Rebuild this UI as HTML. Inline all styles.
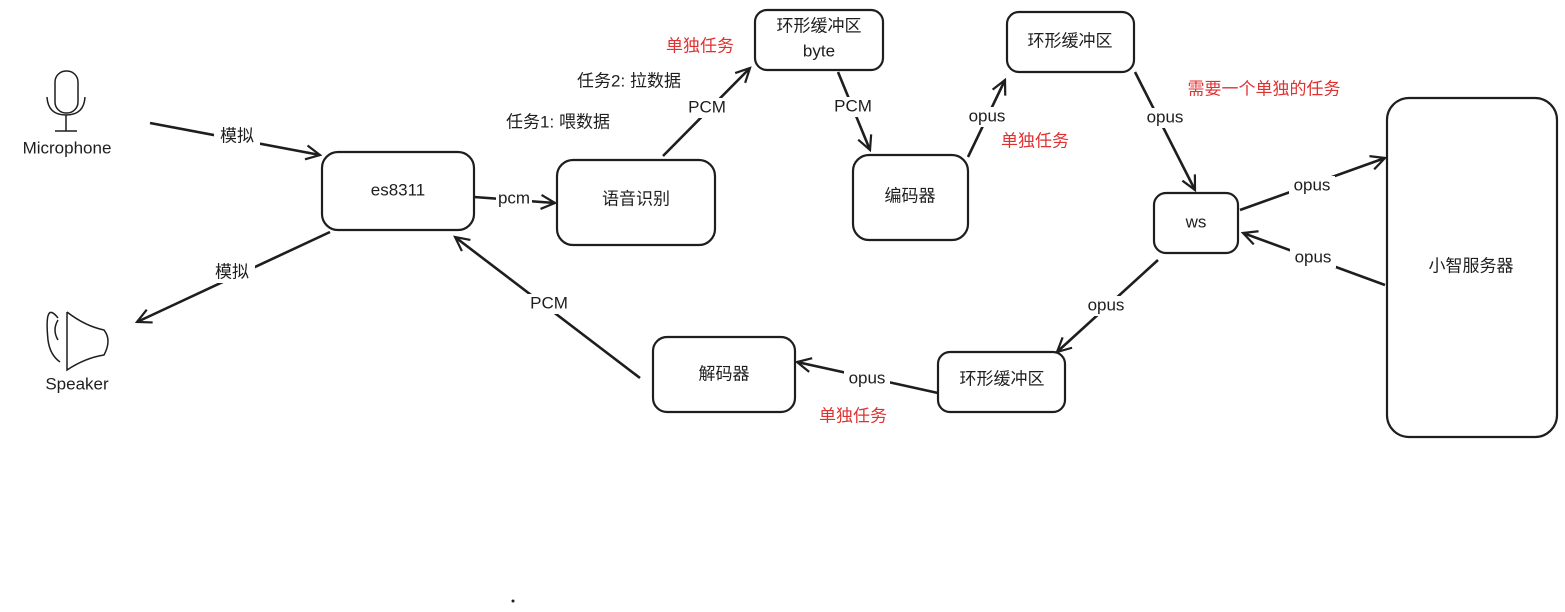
<!DOCTYPE html>
<html><head><meta charset="utf-8"><style>body{margin:0;background:#fff}svg{display:block}text{font-family:"Liberation Sans","Noto Sans CJK SC",sans-serif;font-size:17px;fill:#1e1e1e;text-anchor:middle;dominant-baseline:middle}.r{fill:#e03131}</style></head><body>
<svg width="1565" height="612" viewBox="0 0 1565 612">
<defs><marker id="a" markerWidth="20" markerHeight="20" refX="16" refY="10" orient="auto" markerUnits="userSpaceOnUse"><path d="M2,3 L16,10 L2,17" fill="none" stroke="#1e1e1e" stroke-width="2.2"/></marker></defs>
<g fill="none" stroke="#1e1e1e" stroke-width="2.2">
<rect x="322" y="152" width="152" height="78" rx="16"/>
<rect x="557" y="160" width="158" height="85" rx="16"/>
<rect x="755" y="10" width="128" height="60" rx="12"/>
<rect x="1007" y="12" width="127" height="60" rx="12"/>
<rect x="853" y="155" width="115" height="85" rx="16"/>
<rect x="1154" y="193" width="84" height="60" rx="12"/>
<rect x="1387" y="98" width="170" height="339" rx="22"/>
<rect x="653" y="337" width="142" height="75" rx="14"/>
<rect x="938" y="352" width="127" height="60" rx="12"/>
</g>
<g stroke="#1e1e1e" stroke-width="2.6" fill="none" marker-end="url(#a)">
<line x1="150" y1="123" x2="320" y2="155"/>
<line x1="330" y1="232" x2="137" y2="322"/>
<line x1="474" y1="197" x2="555" y2="203"/>
<line x1="663" y1="156" x2="750" y2="68"/>
<line x1="838" y1="72" x2="870" y2="150"/>
<line x1="968" y1="157" x2="1005" y2="80"/>
<line x1="1135" y1="72" x2="1195" y2="190"/>
<line x1="1240" y1="210" x2="1385" y2="158"/>
<line x1="1385" y1="285" x2="1243" y2="233"/>
<line x1="1158" y1="260" x2="1057" y2="352"/>
<line x1="938" y1="393" x2="797" y2="362"/>
<line x1="640" y1="378" x2="455" y2="237"/>
</g>
<g fill="#fff">
<rect x="214" y="127" width="46" height="20"/><rect x="209" y="263" width="46" height="20"/>
<rect x="496" y="190" width="36" height="18"/><rect x="685" y="98" width="44" height="20"/>
<rect x="831" y="97" width="44" height="20"/><rect x="964" y="107" width="46" height="20"/>
<rect x="1142" y="108" width="46" height="20"/><rect x="1289" y="176" width="46" height="20"/>
<rect x="1290" y="248" width="46" height="20"/><rect x="1083" y="296" width="46" height="20"/>
<rect x="844" y="369" width="46" height="20"/><rect x="526" y="294" width="46" height="20"/>
</g>
<g fill="none" stroke="#1e1e1e" stroke-width="1.5">
<rect x="55" y="71" width="23" height="42" rx="11"/>
<path d="M47,97 Q48,115 66,115 Q84,115 85,97"/><line x1="66" y1="115" x2="66" y2="131"/><line x1="55" y1="131" x2="77" y2="131"/>
<path d="M58,318 Q44,300 48,340 Q50,355 60,362"/>
<path d="M58,320 Q52,330 58,340"/>
<path d="M67,312 L67,370 Q85,358 104,355 Q112,340 104,330 Q85,326 67,312"/>
</g>
<text x="67" y="149">Microphone</text><text x="77" y="385">Speaker</text>
<text x="398" y="191">es8311</text><text x="636" y="200">语音识别</text>
<text x="819" y="27">环形缓冲区</text><text x="819" y="52">byte</text>
<text x="1070" y="42">环形缓冲区</text><text x="910" y="197">编码器</text>
<text x="1196" y="223">ws</text><text x="1471" y="267">小智服务器</text>
<text x="724" y="375">解码器</text><text x="1002" y="380">环形缓冲区</text>
<text x="237" y="137">模拟</text><text x="232" y="273">模拟</text>
<text x="514" y="199">pcm</text><text x="707" y="108">PCM</text><text x="853" y="107">PCM</text>
<text x="987" y="117">opus</text><text x="1165" y="118">opus</text><text x="1312" y="186">opus</text>
<text x="1313" y="258">opus</text><text x="1106" y="306">opus</text><text x="867" y="379">opus</text>
<text x="549" y="304">PCM</text>
<text x="629" y="82">任务2: 拉数据</text><text x="558" y="123">任务1: 喂数据</text>
<text class="r" x="700" y="47">单独任务</text><text class="r" x="1035" y="142">单独任务</text>
<text class="r" x="1264" y="90">需要一个单独的任务</text><text class="r" x="853" y="417">单独任务</text>
<circle cx="513" cy="601" r="1.5" fill="#1e1e1e"/>
</svg></body></html>
